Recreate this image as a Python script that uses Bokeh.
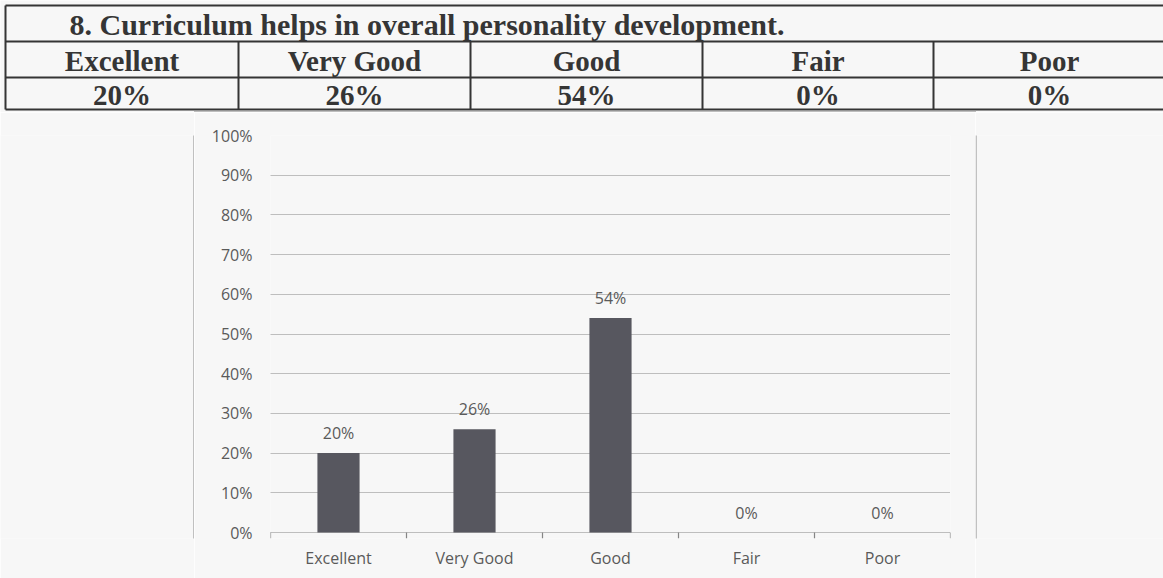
from bokeh.plotting import figure
from bokeh.models import Range1d, FactorRange, ColumnDataSource, FixedTicker, PrintfTickFormatter
from bokeh.layouts import column, row
from bokeh.transform import dodge
from bokeh.core.properties import value
from bokeh.embed import file_html
from bokeh.resources import INLINE

# ---------------- data ----------------
question = "8.  Curriculum helps in overall personality development."
categories = ["Excellent", "Very Good", "Good", "Fair", "Poor"]
percents = [20, 26, 54, 0, 0]
percent_labels = ["20%", "26%", "54%", "0%", "0%"]
y_ticks = [0, 10, 20, 30, 40, 50, 60, 70, 80, 90, 100]

# ---------------- styles ----------------
BG = "#f7f7f7"
INK = "#353535"
GRAY = "#858585"
LABEL = "#5a5a5a"
BAR = "#57575f"
SERIF = value("Liberation Serif")
SANS = "Open Sans"


def blank(width, height, xr, yr):
    f = figure(width=width, height=height, x_range=Range1d(*xr), y_range=Range1d(*yr),
               x_axis_type=None, y_axis_type=None, output_backend="svg",
               toolbar_location=None, min_border=0)
    f.grid.visible = False
    f.outline_line_color = None
    f.background_fill_color = BG
    f.border_fill_color = BG
    return f


# ---------------- table (top) ----------------
tab = blank(1163, 112, (0, 1163), (112, 0))
col_edges = [5, 238, 470, 702, 933, 1165]
row_lines = [5, 41, 77, 109]
tab.segment(x0=[5] * 4, y0=row_lines, x1=[1163] * 4, y1=row_lines, line_color=INK, line_width=2)
tab.segment(x0=[5], y0=[5], x1=[5], y1=[109], line_color=INK, line_width=2)
tab.segment(x0=col_edges[1:5], y0=[41] * 4, x1=col_edges[1:5], y1=[109] * 4, line_color=INK, line_width=2)
# top of chart box
tab.segment(x0=[194], y0=[111.3], x1=[975], y1=[111.3], line_color=GRAY, line_width=1.5, line_dash="1 1")

centers = [(col_edges[i] + col_edges[i + 1]) / 2 for i in range(5)]
tab.text(x=[69], y=[24], text=[question], text_font=SERIF, text_font_style="bold",
         text_font_size="30px", text_color=INK, text_align="left", text_baseline="middle")
tab.text(x=centers, y=[60] * 5, text=categories, text_font=SERIF, text_font_style="bold",
         text_font_size="29px", text_color=INK, text_align="center", text_baseline="middle")
tab.text(x=centers, y=[94] * 5, text=percent_labels, text_font=SERIF, text_font_style="bold",
         text_font_size="29px", text_color=INK, text_align="center", text_baseline="middle")

# ---------------- side panels with the chart box edges ----------------
left = blank(194, 466, (0, 194), (578, 112))
left.segment(x0=[193.3], y0=[112], x1=[193.3], y1=[578], line_color=GRAY, line_width=1.5, line_dash="1 1")
right = blank(188, 466, (975, 1163), (578, 112))
right.segment(x0=[975.7], y0=[112], x1=[975.7], y1=[578], line_color=GRAY, line_width=1.5, line_dash="1 1")

# ---------------- bar chart ----------------
src = ColumnDataSource(dict(cat=categories, pct=percents, lab=percent_labels))
p = figure(width=781, height=466, x_range=FactorRange(*categories, range_padding=0),
           y_range=Range1d(-1.51, 100), output_backend="svg", toolbar_location=None,
           min_border_left=76, min_border_right=25, min_border_top=23, min_border_bottom=40)
p.background_fill_color = BG
p.border_fill_color = BG
p.outline_line_color = None

p.yaxis.ticker = FixedTicker(ticks=y_ticks)
p.yaxis.formatter = PrintfTickFormatter(format="%d%%")
p.yaxis.axis_line_color = None
p.yaxis.major_tick_line_color = None
p.yaxis.minor_tick_line_color = None
p.yaxis.major_tick_out = 0
p.yaxis.major_tick_in = 0
p.yaxis.major_label_standoff = 18
p.yaxis.major_label_text_font = SANS
p.yaxis.major_label_text_font_size = "16px"
p.yaxis.major_label_text_color = LABEL

p.xaxis.axis_line_color = None
p.xaxis.major_tick_line_color = None
p.xaxis.major_tick_out = 0
p.xaxis.major_tick_in = 0
p.xaxis.major_label_standoff = 8
p.xaxis.major_label_text_font = SANS
p.xaxis.major_label_text_font_size = "16px"
p.xaxis.major_label_text_color = LABEL

p.xgrid.grid_line_color = None
p.ygrid.ticker = FixedTicker(ticks=y_ticks)
p.ygrid.grid_line_color = GRAY
p.ygrid.grid_line_dash = "1 1"
p.ygrid.grid_line_width = 1.2

# boundary tick marks under the baseline
p.segment(x0=dodge("cat", -0.5, range=p.x_range), y0=0, x1=dodge("cat", -0.5, range=p.x_range),
          y1=-1.51, source=src, line_color=GRAY, line_width=1.2)
last = ColumnDataSource(dict(cat=categories[-1:]))
p.segment(x0=dodge("cat", 0.5, range=p.x_range), y0=0, x1=dodge("cat", 0.5, range=p.x_range),
          y1=-1.51, source=last, line_color=GRAY, line_width=1.2)

p.vbar(x="cat", top="pct", bottom=0, width=0.31, source=src, fill_color=BAR, line_color=None)
p.text(x="cat", y="pct", text="lab", source=src, text_align="center", text_baseline="bottom",
       y_offset=-9, text_font=value(SANS), text_font_size="16px", text_color=LABEL)

layout = column(tab, row(left, p, right))

open("out.html", "w").write(file_html(layout, INLINE))
